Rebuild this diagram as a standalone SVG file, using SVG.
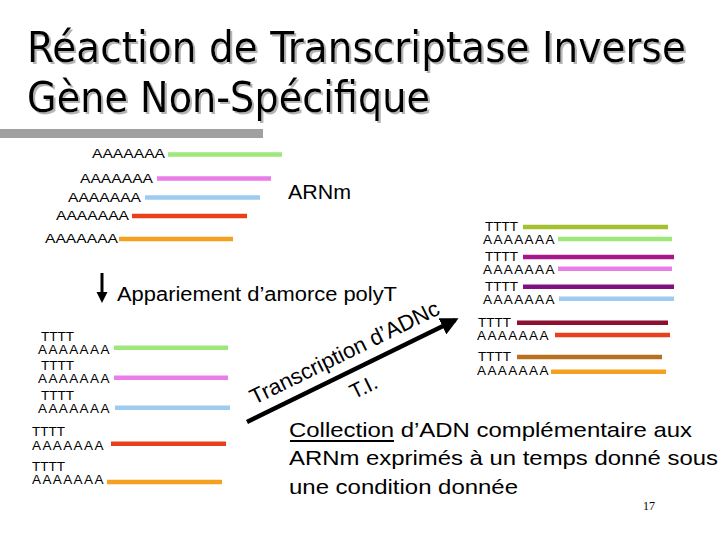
<svg xmlns="http://www.w3.org/2000/svg" width="720" height="540" viewBox="0 0 720 540">
<style>
.title{font-family:"DejaVu Sans Condensed","DejaVu Sans",sans-serif;font-size:42px;fill:#000}
.a{font-family:"Liberation Sans",Arial,sans-serif;font-size:13.5px;fill:#000}
.aa{letter-spacing:1.4px}
.cal{font-family:"Liberation Sans",Arial,sans-serif;fill:#000}
.ln{stroke-width:4.5;fill:none}
.g{stroke:#9de87a}.p{stroke:#ea7ee8}.b{stroke:#9ecbf0}.r{stroke:#e8401c}.o{stroke:#f5a01e}
.ol{stroke:#a5c030}.mg{stroke:#a8168c}.pu{stroke:#801080}.dr{stroke:#8c1030}.br{stroke:#b8701e}
.body{font-family:"Liberation Sans",Arial,sans-serif;font-size:21px;fill:#000}
</style>
<defs>
<marker id="ah" markerWidth="4" markerHeight="4" refX="3.2" refY="2" orient="auto" markerUnits="strokeWidth">
<path d="M0,0 L4,2 L0,4 Z" fill="#000"/>
</marker>
<filter id="shadow" x="-5%" y="-20%" width="110%" height="150%">
<feFlood flood-color="#b4b4b4"/>
<feComposite in2="SourceAlpha" operator="in"/>
<feOffset dx="2" dy="2" result="s"/>
<feMerge><feMergeNode in="s"/><feMergeNode in="SourceGraphic"/></feMerge>
</filter>
</defs>

<g id="title">
<g filter="url(#shadow)">
<text class="title" x="27" y="62" textLength="659" lengthAdjust="spacingAndGlyphs">Réaction de Transcriptase Inverse</text>
<text class="title" x="27" y="112" textLength="403" lengthAdjust="spacingAndGlyphs">Gène Non-Spécifique</text>
</g>
<rect x="0" y="129" width="263" height="9" fill="#a0a0a0"/>
</g>

<g id="mrna">
<text class="a" x="92" y="158" textLength="73" lengthAdjust="spacingAndGlyphs">AAAAAAA</text>
<line class="ln g" x1="168" y1="154.5" x2="282" y2="154.5"/>
<text class="a" x="80" y="183" textLength="73" lengthAdjust="spacingAndGlyphs">AAAAAAA</text>
<line class="ln p" x1="157" y1="178.5" x2="271" y2="178.5"/>
<text class="a" x="68" y="202" textLength="73" lengthAdjust="spacingAndGlyphs">AAAAAAA</text>
<line class="ln b" x1="145" y1="197.5" x2="260" y2="197.5"/>
<text class="a" x="56" y="220" textLength="73" lengthAdjust="spacingAndGlyphs">AAAAAAA</text>
<line class="ln r" x1="132" y1="216" x2="247" y2="216"/>
<text class="a" x="45" y="243" textLength="73" lengthAdjust="spacingAndGlyphs">AAAAAAA</text>
<line class="ln o" x1="119" y1="239" x2="233" y2="239"/>
<text class="cal" x="288" y="199" font-size="21" textLength="63" lengthAdjust="spacingAndGlyphs">ARNm</text>
</g>

<g id="step1">
<line x1="102" y1="273" x2="102" y2="294" stroke="#000" stroke-width="3"/>
<path d="M96.5,292 L107.5,292 L102,303 Z" fill="#000"/>
<text class="cal" x="117" y="301" font-size="20" textLength="280" lengthAdjust="spacingAndGlyphs">Appariement d’amorce polyT</text>
</g>

<g id="annealed">
<text class="a"><tspan x="41" y="341">TTTT</tspan><tspan class="aa" x="38" y="354">AAAAAAA</tspan></text>
<line class="ln g" x1="114" y1="347.7" x2="228" y2="347.7"/>
<text class="a"><tspan x="41" y="370">TTTT</tspan><tspan class="aa" x="38" y="383">AAAAAAA</tspan></text>
<line class="ln p" x1="114" y1="377.7" x2="228" y2="377.7"/>
<text class="a"><tspan x="41" y="400">TTTT</tspan><tspan class="aa" x="38" y="413">AAAAAAA</tspan></text>
<line class="ln b" x1="115" y1="407.7" x2="230" y2="407.7"/>
<text class="a"><tspan x="32" y="436">TTTT</tspan><tspan class="aa" x="32" y="450">AAAAAAA</tspan></text>
<line class="ln r" x1="111" y1="443.7" x2="226" y2="443.7"/>
<text class="a"><tspan x="32" y="471">TTTT</tspan><tspan class="aa" x="32" y="484">AAAAAAA</tspan></text>
<line class="ln o" x1="107" y1="482" x2="222" y2="482"/>
</g>

<g id="connectors">
<g transform="translate(247,422) rotate(-26.1)">
<line x1="0" y1="0" x2="232" y2="0" stroke="#000" stroke-width="4.5" marker-end="url(#ah)"/>
<text class="cal" x="14" y="-12" font-size="22" textLength="208" lengthAdjust="spacingAndGlyphs">Transcription d’ADNc</text>
<text class="cal" x="120" y="27" font-size="21" text-anchor="middle">T.I.</text>
</g>
</g>

<g id="cdna">
<text class="a"><tspan x="485" y="231">TTTT</tspan><tspan class="aa" x="483" y="244">AAAAAAA</tspan></text>
<line class="ln ol" x1="523" y1="227" x2="668" y2="227"/>
<line class="ln g" x1="558" y1="239" x2="672" y2="239"/>
<text class="a"><tspan x="485" y="261">TTTT</tspan><tspan class="aa" x="483" y="274">AAAAAAA</tspan></text>
<line class="ln mg" x1="523" y1="257" x2="674" y2="257"/>
<line class="ln p" x1="558" y1="268.7" x2="672" y2="268.7"/>
<text class="a"><tspan x="485" y="291">TTTT</tspan><tspan class="aa" x="483" y="304">AAAAAAA</tspan></text>
<line class="ln pu" x1="523" y1="286.7" x2="674" y2="286.7"/>
<line class="ln b" x1="559" y1="298.7" x2="674" y2="298.7"/>
<text class="a"><tspan x="478" y="327">TTTT</tspan><tspan class="aa" x="477" y="340">AAAAAAA</tspan></text>
<line class="ln dr" x1="517" y1="322.7" x2="668" y2="322.7"/>
<line class="ln r" x1="555" y1="335" x2="670" y2="335"/>
<text class="a"><tspan x="478" y="361">TTTT</tspan><tspan class="aa" x="477" y="375">AAAAAAA</tspan></text>
<line class="ln br" x1="517" y1="357" x2="662" y2="357"/>
<line class="ln o" x1="551" y1="371.7" x2="666" y2="371.7"/>
</g>

<g id="caption">
<text class="body" x="289" y="437" textLength="403" lengthAdjust="spacingAndGlyphs">Collection d’ADN complémentaire aux</text>
<line x1="290" y1="441" x2="394" y2="441" stroke="#000" stroke-width="2"/>
<text class="body" x="289" y="465" textLength="429" lengthAdjust="spacingAndGlyphs">ARNm exprimés à un temps donné sous</text>
<text class="body" x="289" y="494" textLength="229" lengthAdjust="spacingAndGlyphs">une condition donnée</text>
<text x="643" y="510" font-family="Liberation Serif,serif" font-size="12" fill="#000">17</text>
</g>
</svg>
